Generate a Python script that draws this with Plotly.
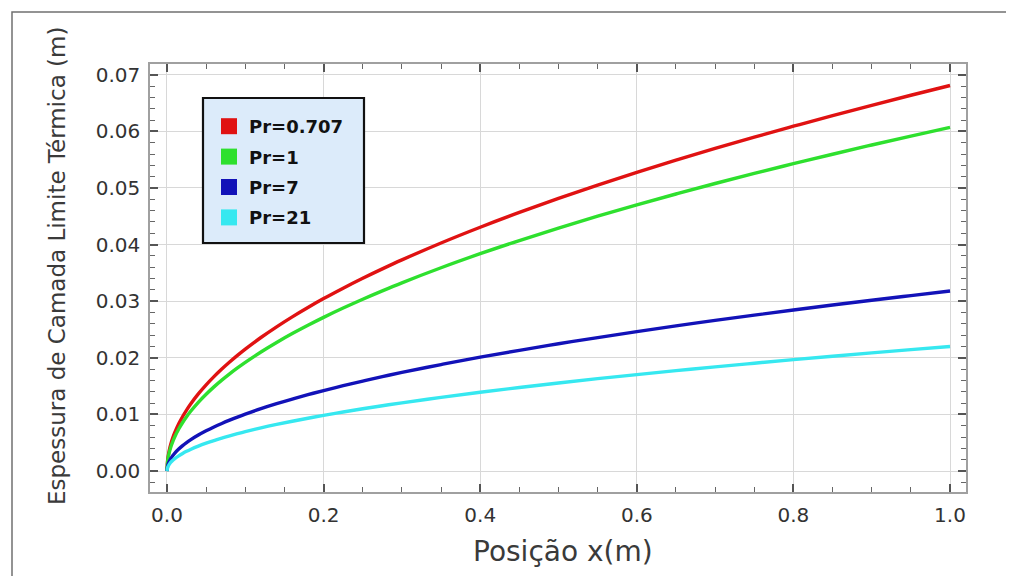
import plotly.graph_objects as go

x_pos = [0, 0.001, 0.0025, 0.005, 0.0075, 0.01, 0.015, 0.02, 0.025, 0.03, 0.04, 0.05,
         0.06, 0.07, 0.08, 0.09, 0.1, 0.12, 0.14, 0.16, 0.18, 0.2, 0.225, 0.25, 0.275,
         0.3, 0.35, 0.4, 0.45, 0.5, 0.55, 0.6, 0.65, 0.7, 0.75, 0.8, 0.85, 0.9, 0.95, 1.0]
pr_0707 = [0, 0.00215, 0.00341, 0.00482, 0.00590, 0.00681, 0.00834, 0.00963, 0.01077,
           0.01180, 0.01362, 0.01523, 0.01668, 0.01802, 0.01926, 0.02043, 0.02154,
           0.02359, 0.02548, 0.02724, 0.02889, 0.03046, 0.03230, 0.03405, 0.03571,
           0.03730, 0.04029, 0.04307, 0.04568, 0.04815, 0.05050, 0.05275, 0.05490,
           0.05698, 0.05898, 0.06091, 0.06279, 0.06461, 0.06638, 0.06810]
pr_1 = [0, 0.00192, 0.00304, 0.00429, 0.00526, 0.00607, 0.00743, 0.00858, 0.00960,
        0.01051, 0.01214, 0.01357, 0.01487, 0.01606, 0.01717, 0.01821, 0.01920,
        0.02103, 0.02271, 0.02428, 0.02575, 0.02715, 0.02879, 0.03035, 0.03183,
        0.03325, 0.03591, 0.03839, 0.04072, 0.04292, 0.04502, 0.04702, 0.04894,
        0.05079, 0.05257, 0.05429, 0.05596, 0.05759, 0.05916, 0.06070]
pr_7 = [0, 0.00101, 0.00159, 0.00225, 0.00275, 0.00318, 0.00389, 0.00450, 0.00503,
        0.00551, 0.00636, 0.00711, 0.00779, 0.00841, 0.00899, 0.00954, 0.01006,
        0.01102, 0.01190, 0.01272, 0.01349, 0.01422, 0.01508, 0.01590, 0.01668,
        0.01742, 0.01881, 0.02011, 0.02133, 0.02249, 0.02358, 0.02463, 0.02564,
        0.02661, 0.02754, 0.02844, 0.02932, 0.03017, 0.03099, 0.03180]
pr_21 = [0, 0.00070, 0.00110, 0.00156, 0.00191, 0.00220, 0.00269, 0.00311, 0.00348,
         0.00381, 0.00440, 0.00492, 0.00539, 0.00582, 0.00622, 0.00660, 0.00696,
         0.00762, 0.00823, 0.00880, 0.00933, 0.00984, 0.01044, 0.01100, 0.01154,
         0.01205, 0.01302, 0.01391, 0.01476, 0.01556, 0.01632, 0.01704, 0.01774,
         0.01841, 0.01905, 0.01968, 0.02028, 0.02087, 0.02144, 0.02200]

series = [
    ("Pr=0.707", pr_0707, "#e01212"),
    ("Pr=1", pr_1, "#2ee02e"),
    ("Pr=7", pr_7, "#1212b8"),
    ("Pr=21", pr_21, "#36e8f0"),
]

FONT = "DejaVu Sans, Verdana, sans-serif"

fig = go.Figure()
for name, vals, col in series:
    fig.add_trace(go.Scatter(x=x_pos, y=vals, mode="lines", name=name,
                             line=dict(color=col, width=3.4, shape="spline", smoothing=1.0),
                             showlegend=False))
for i, (name, vals, col) in enumerate(series):
    fig.add_trace(go.Scatter(x=[None], y=[None], mode="markers", name=name,
                             legendgroup=f"g{i}",
                             marker=dict(symbol="square", size=16, color=col)))

axis_common = dict(
    showline=True, linecolor="#a0a0a0", linewidth=1.5, mirror="ticks",
    ticks="inside", ticklen=8, tickwidth=1.6, tickcolor="#555555",
    showgrid=True, gridcolor="#d8d8d8", gridwidth=1, zeroline=False,
    ticklabelstandoff=4,
    tickfont=dict(family=FONT, size=20, color="#333333"),
)

fig.update_xaxes(range=[-0.0217, 1.0204], tick0=0, dtick=0.2, tickformat=".1f",
                 minor=dict(ticks="inside", ticklen=5, tickwidth=1.3, tickcolor="#666666",
                            dtick=0.05, tick0=0, showgrid=False),
                 **axis_common)
fig.update_yaxes(range=[-0.0037, 0.0719], tick0=0, dtick=0.01, tickformat=".2f",
                 minor=dict(ticks="inside", ticklen=5, tickwidth=1.3, tickcolor="#666666",
                            dtick=0.002, tick0=0, showgrid=False),
                 **axis_common)

# plot area spans screen px 150..966 (x) and 64..492 (y)
def px(sx):
    return (sx - 150) / 816

def py(sy):
    return (492 - sy) / 428

# axis titles
fig.add_annotation(text="Posição x(m)", xref="paper", yref="paper",
                   x=px(563), y=py(551), xanchor="center", yanchor="middle",
                   showarrow=False, font=dict(family=FONT, size=28, color="#3a3a3a"))
fig.add_annotation(text="Espessura de Camada Limite Térmica (m)", xref="paper", yref="paper",
                   x=px(57), y=py(266), xanchor="center", yanchor="middle", textangle=-90,
                   showarrow=False, font=dict(family=FONT, size=23, color="#3a3a3a"))

# outer frame of the figure
fig.add_shape(type="rect", xref="paper", yref="paper",
              x0=px(12), x1=px(1013), y0=py(600), y1=py(12),
              line=dict(color="#707070", width=1.5), fillcolor="rgba(0,0,0,0)", layer="below")
# legend box
fig.add_shape(type="rect", xref="paper", yref="paper",
              x0=px(203), x1=px(364), y0=py(243), y1=py(98),
              line=dict(color="#111111", width=2.2), fillcolor="#dcebfa", layer="above")

fig.update_layout(
    width=1014, height=576,
    margin=dict(l=142, r=56, t=56, b=92),
    paper_bgcolor="white", plot_bgcolor="white",
    legend=dict(x=px(209), y=py(108), xanchor="left", yanchor="top",
                bgcolor="rgba(0,0,0,0)", borderwidth=0,
                tracegroupgap=4,
                font=dict(family=FONT, size=18, color="#111111", weight="bold")),
)

fig.write_html("out.html")
